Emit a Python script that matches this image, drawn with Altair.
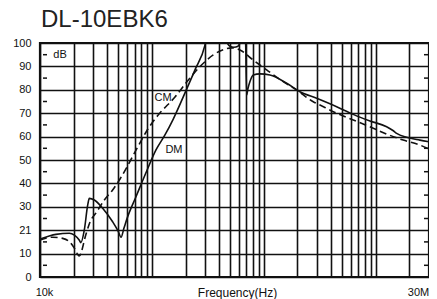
import altair as alt
import pandas as pd

# ---- data ----
chart_title = "DL-10EBK6"

dm_freq = [10000, 12100, 13900, 18300, 20300, 22400, 23200, 24900, 26700, 27600,
           30600, 36300, 44600, 49800, 53000, 56300, 60800, 72100, 89900, 108800,
           130900, 155300, 204600, 242800, 298300, 310800, 366400, 440900, 498800,
           541600, 588200, 638800, 686300, 703500, 722500, 752900, 805600, 924900,
           1136000, 1602000, 2106000, 2971000, 4483000, 6307000, 8894000,
           12540000, 14280000, 15410000, 18920000, 24880000, 30000000]
dm_db = [16.2, 17.5, 18.2, 18.7, 17.9, 15.8, 14.7, 20.1, 30.8, 33.6,
         32.9, 29.4, 23.6, 19.7, 17.0, 20.9, 25.8, 34.3, 45.3, 54.3,
         60.7, 67.5, 80.3, 88.5, 99.1, 103, 106, 102, 98.6,
         98.2, 98.6, 101.5, 102, 77.8, 80.5, 83.5, 86.3, 86.8,
         86.3, 82.8, 79.2, 76.4, 72.8, 69.5, 66.7,
         64.2, 62.6, 61.4, 59.7, 58.5, 57.8]

cm_freq = [10000, 13000, 15950, 18300, 20300, 22400, 25800, 28000, 32100, 37600,
           44600, 51900, 59900, 68200, 78300, 89900, 106600, 118100, 160900,
           204600, 269000, 353800, 466000, 519700, 612800, 805600, 1061000,
           1494000, 1968000, 2770000, 3178000, 4483000, 6307000, 8894000,
           12540000, 17650000, 24880000, 30000000]
cm_db = [15.8, 17.0, 16.5, 15.1, 12.3, 9.0, 18.4, 23.5, 27.8, 32.9,
         37.2, 41.9, 47.0, 52.1, 57.3, 62.4, 67.5, 70.1, 76.9,
         83.3, 89.9, 94.9, 97.6, 97.9, 97.0, 92.7, 88.5,
         83.5, 79.9, 74.9, 73.5, 70.0, 67.1, 64.2,
         61.1, 58.5, 56.4, 54.6]

x_grid = [1e4, 2e4, 3e4, 4e4, 5e4, 6e4, 7e4, 8e4, 9e4,
          1e5, 2e5, 3e5, 4e5, 5e5, 6e5, 7e5, 8e5, 9e5,
          1e6, 2e6, 3e6, 4e6, 5e6, 6e6, 7e6, 8e6, 9e6,
          1e7, 2e7, 3e7]
y_ticks = [0, 10, 20, 30, 40, 50, 60, 70, 80, 90, 100]
minor_ticks = [5, 15, 25, 35, 45, 55, 65, 75, 85, 95]

note_text = ["dB", "CM", "DM"]
note_freq = [15100, 125700, 157600]
note_db = [95, 76.7, 54.3]

FONT = "Liberation Sans"
INK = "#111111"

dm = pd.DataFrame({"freq": dm_freq, "db": dm_db})
cm = pd.DataFrame({"freq": cm_freq, "db": cm_db})
notes = pd.DataFrame({"freq": note_freq, "db": note_db, "t": note_text})
minor = pd.DataFrame({"db": minor_ticks})
title_df = pd.DataFrame({"t": [chart_title]})

xscale = alt.Scale(type="log", domain=[1e4, 3e7], nice=False)
yscale = alt.Scale(domain=[0, 100], nice=False, zero=False)

xaxis = alt.Axis(
    values=x_grid, grid=True, gridColor=INK, gridWidth=1.6,
    ticks=False, tickSize=0, domain=False,
    labelExpr="datum.value == 10000 ? '10k' : (datum.value == 30000000 ? '30M' : '')",
    labelOverlap=False, labelFlush=False, labelFont=FONT, labelFontSize=11,
    labelColor=INK, labelPadding=15, labelBaseline="middle",
    labelOffset={"expr": "datum.value == 10000 ? 4 : -11"},
    title="Frequency(Hz)", titleX=197, titleY=15, titleBaseline="middle",
    titleAlign="center", titleFont=FONT, titleFontSize=12,
    titleFontWeight="normal", titleColor=INK,
)
yaxis = alt.Axis(
    values=y_ticks, grid=True, gridColor=INK, gridWidth=1.6,
    ticks=False, tickSize=0, domain=False,
    labelExpr="datum.value == 20 ? '21' : datum.label",
    labelFont=FONT, labelFontSize=11, labelColor=INK, labelPadding=9,
    title=None,
)

X = alt.X("freq:Q", scale=xscale, axis=xaxis)
Y = alt.Y("db:Q", scale=yscale, axis=yaxis)

dm_line = alt.Chart(dm).mark_line(color=INK, strokeWidth=1.6, clip=True,
                                  interpolate="monotone").encode(x=X, y=Y)
cm_line = alt.Chart(cm).mark_line(color=INK, strokeWidth=1.6, clip=True,
                                  strokeDash=[7, 4],
                                  interpolate="monotone").encode(x=X, y=Y)
note_layer = alt.Chart(notes).mark_text(font=FONT, fontSize=11, color=INK,
                                        align="center", baseline="middle").encode(
    x=X, y=Y, text="t:N")
left_ticks = alt.Chart(minor).mark_rule(color=INK, strokeWidth=1.5).encode(
    y=Y, x=alt.value(3), x2=alt.value(7))
right_ticks = alt.Chart(minor).mark_rule(color=INK, strokeWidth=1.5).encode(
    y=Y, x=alt.value(384), x2=alt.value(388))
title_layer = alt.Chart(title_df).mark_text(
    font=FONT, fontSize=24, color="#222222", align="left",
    baseline="alphabetic").encode(text="t:N", x=alt.value(1), y=alt.value(-16))

chart = alt.layer(dm_line, cm_line, note_layer, left_ticks, right_ticks,
                  title_layer).properties(
    width=389, height=234,
    autosize=alt.AutoSizeParams(type="none"),
    padding={"left": 32, "top": 35, "right": 0, "bottom": 26},
    background="white",
).configure_view(stroke=INK, strokeWidth=2.2)

chart.save("out.html", embed_options={"renderer": "svg", "actions": False})
